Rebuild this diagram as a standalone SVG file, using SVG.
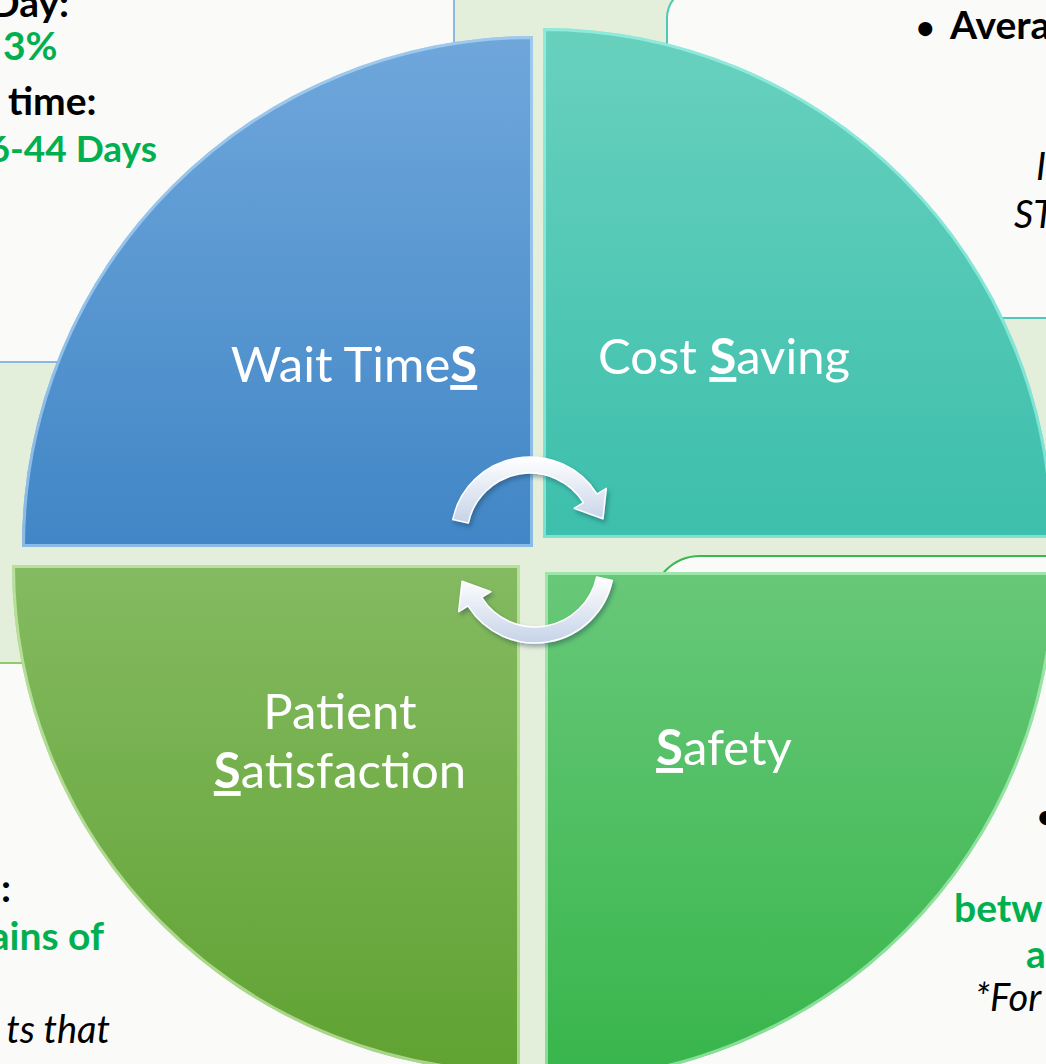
<svg xmlns="http://www.w3.org/2000/svg" width="1046" height="1064" viewBox="0 0 1046 1064">
  <style>
    .label { font-family: Lato, "Open Sans", sans-serif; font-size: 49px; fill: #ffffff; }
    .label .key { font-weight: bold; text-decoration: underline; }
    .note { font-family: Lato, "Open Sans", sans-serif; font-size: 39px; font-weight: bold; fill: #000000; }
    .note.hi { fill: #00b050; }
    .note.it { font-weight: normal; font-style: italic; font-size: 38px; }
    .note.dot { font-size: 32px; }
    .note.days { font-size: 37px; }
    .panel { fill: #fafaf8; stroke-width: 2; }
    .bevel { fill: none; stroke-width: 6; stroke-opacity: 0.55; }
  </style>
  <defs>
    <linearGradient id="gBlue" x1="0" y1="0" x2="0" y2="1">
      <stop offset="0" stop-color="#6fa7db"/>
      <stop offset="1" stop-color="#4186c6"/>
    </linearGradient>
    <linearGradient id="gTeal" x1="0" y1="0" x2="0" y2="1">
      <stop offset="0" stop-color="#68d1be"/>
      <stop offset="1" stop-color="#3cbfac"/>
    </linearGradient>
    <linearGradient id="gLeaf" x1="0" y1="0" x2="0" y2="1">
      <stop offset="0" stop-color="#84ba61"/>
      <stop offset="1" stop-color="#60a232"/>
    </linearGradient>
    <linearGradient id="gGreen" x1="0" y1="0" x2="0" y2="1">
      <stop offset="0" stop-color="#68c879"/>
      <stop offset="1" stop-color="#37b54b"/>
    </linearGradient>
    <linearGradient id="gArrow" x1="0" y1="0" x2="0" y2="1">
      <stop offset="0" stop-color="#ffffff"/>
      <stop offset="1" stop-color="#c6d3e8"/>
    </linearGradient>
    <filter id="shadow" x="-20%" y="-20%" width="140%" height="140%">
      <feDropShadow dx="2" dy="3" stdDeviation="2" flood-color="#1f3550" flood-opacity="0.4"/>
    </filter>
    <clipPath id="cBlue"><path d="M533,547 L22,547 A511,511 0 0 1 533,36 Z"/></clipPath>
    <clipPath id="cTeal"><path d="M543,538 L543,28 A510,510 0 0 1 1053,538 Z"/></clipPath>
    <clipPath id="cLeaf"><path d="M520,565 L520,1073 A508,508 0 0 1 12,565 Z"/></clipPath>
    <clipPath id="cGreen"><path d="M545,572 L1055,572 A510,510 0 0 1 545,1082 Z"/></clipPath>
  </defs>

  <!-- backdrop -->
  <rect x="0" y="0" width="1046" height="1064" fill="#e3eedb"/>

  <!-- corner text panels -->
  <g id="panels">
    <rect class="panel" x="-40" y="-40" width="494" height="402" rx="40" stroke="#8db6e2"/>
    <rect class="panel" x="667" y="-12" width="420" height="330" rx="30" stroke="#4fc8b5"/>
    <rect class="panel" x="-40" y="663" width="540" height="440" rx="40" stroke="#8fcb6b"/>
    <rect class="panel" x="652" y="556" width="440" height="540" rx="48" stroke="#3cb64e"/>
  </g>

  <!-- panel notes -->
  <g id="notes">
    <text class="note" x="-10" y="17">Day:</text>
    <text class="note hi" x="3" y="60">3%</text>
    <text class="note" x="8" y="115">time:</text>
    <text class="note hi days" x="157" y="162" text-anchor="end">6-44 Days</text>
    <text class="note dot" x="916" y="39">•</text>
    <text class="note" x="950" y="39">Avera</text>
    <text class="note it" x="1036" y="180">I</text>
    <text class="note it" x="1014" y="228">ST</text>
    <text class="note" x="1" y="902">:</text>
    <text class="note hi" x="104" y="950" text-anchor="end">ains of</text>
    <text class="note it" x="110" y="1043" text-anchor="end">ts that</text>
    <text class="note dot" x="1037" y="828">•</text>
    <text class="note hi" x="954" y="922">betw</text>
    <text class="note hi" x="1026" y="968">a</text>
    <text class="note it" x="975" y="1011">*For</text>
  </g>

  <!-- quadrants -->
  <g id="wait-times">
    <path d="M533,547 L22,547 A511,511 0 0 1 533,36 Z" fill="url(#gBlue)"/>
    <path class="bevel" d="M533,547 L22,547 A511,511 0 0 1 533,36 Z" stroke="#c4e6ff" clip-path="url(#cBlue)"/>
    <text class="label" x="354" y="382" text-anchor="middle">Wait Time<tspan class="key">S</tspan></text>
  </g>
  <g id="cost-saving">
    <path d="M543,538 L543,28 A510,510 0 0 1 1053,538 Z" fill="url(#gTeal)"/>
    <path class="bevel" d="M543,538 L543,28 A510,510 0 0 1 1053,538 Z" stroke="#aefff2" clip-path="url(#cTeal)"/>
    <text class="label" x="724" y="374" text-anchor="middle">Cost <tspan class="key">S</tspan>aving</text>
  </g>
  <g id="patient-satisfaction">
    <path d="M520,565 L520,1073 A508,508 0 0 1 12,565 Z" fill="url(#gLeaf)"/>
    <path class="bevel" d="M520,565 L520,1073 A508,508 0 0 1 12,565 Z" stroke="#e4ffcc" clip-path="url(#cLeaf)"/>
    <text class="label" x="340" y="729" text-anchor="middle">Patient</text>
    <text class="label" x="340" y="788" text-anchor="middle"><tspan class="key">S</tspan>atisfaction</text>
  </g>
  <g id="safety">
    <path d="M545,572 L1055,572 A510,510 0 0 1 545,1082 Z" fill="url(#gGreen)"/>
    <path class="bevel" d="M545,572 L1055,572 A510,510 0 0 1 545,1082 Z" stroke="#c8ffd4" clip-path="url(#cGreen)"/>
    <text class="label" x="724" y="765" text-anchor="middle"><tspan class="key">S</tspan>afety</text>
  </g>

  <!-- cycle arrows -->
  <g id="connectors" filter="url(#shadow)" fill="url(#gArrow)" stroke="#ffffff" stroke-width="1.5" stroke-linejoin="round">
    <path d="M452.7,519.6 A79,79 0 0 1 597,494.1 L606.3,488.3 L602.9,518.8 L574.1,508.4 L583.4,502.6 A63,63 0 0 0 468.4,522.9 Z"/>
    <path d="M612.3,580.4 A79,79 0 0 1 468,605.9 L458.7,611.7 L462.1,581.2 L490.9,591.6 L481.6,597.4 A63,63 0 0 0 596.6,577.1 Z"/>
  </g>
</svg>
